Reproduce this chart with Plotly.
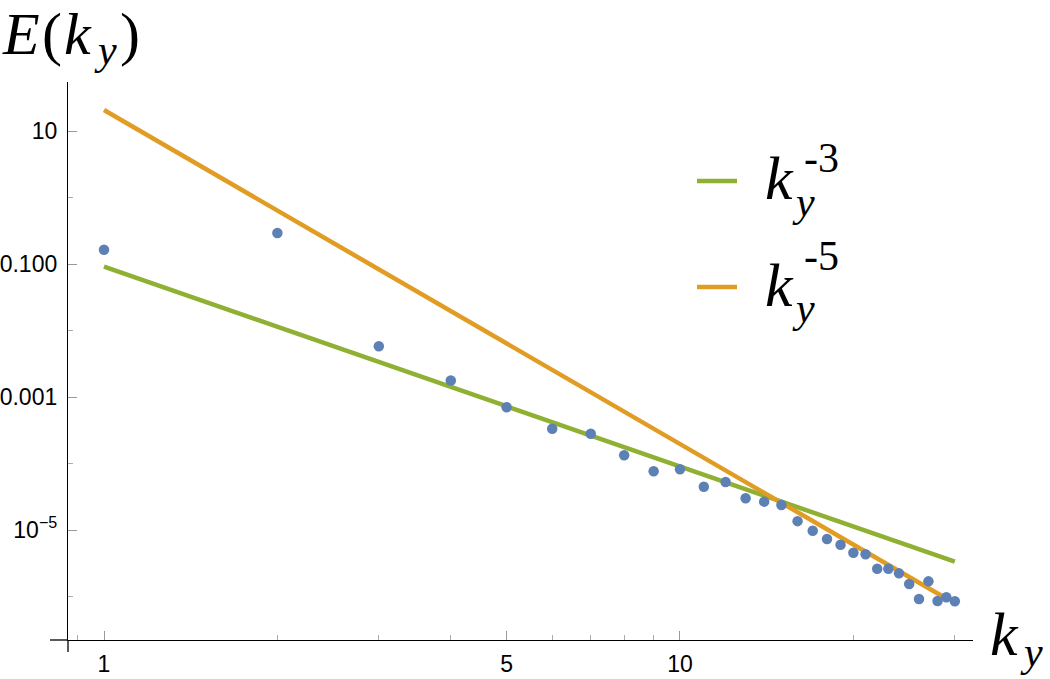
import plotly.graph_objects as go

# ---- data ----
ky = list(range(1, 31))
E_ky = [0.164, 0.292, 5.78e-3, 1.77e-3, 7.0e-4, 3.33e-4, 2.81e-4, 1.33e-4,
        7.64e-5, 8.18e-5, 4.48e-5, 5.27e-5, 3.01e-5, 2.67e-5, 2.38e-5,
        1.36e-5, 9.75e-6, 7.33e-6, 6.01e-6, 4.56e-6, 4.31e-6, 2.62e-6,
        2.62e-6, 2.23e-6, 1.54e-6, 9.16e-7, 1.69e-6, 8.55e-7, 9.73e-7, 8.47e-7]

fit3_k = [1, 30]
fit3_E = [0.091, 3.34e-6]
fit5_k = [1, 28.5]
fit5_E = [20.7, 1.02e-6]

x_tickvals = [1, 5, 10]
x_ticktext = ["1", "5", "10"]
x_minor = [0.9, 2, 3, 4, 6, 7, 8, 9, 20, 30]
y_tickvals = [10, 0.1, 0.001, 1e-5]
y_ticktext = ["10", "0.100", "0.001", "10<sup>\u22125</sup>"]
y_minor = [1, 0.01, 1e-4, 1e-6]

# ---- layout geometry ----
W, H = 1050, 679
L, R, T, B = 68, 77, 82, 39
PW, PH = W - L - R, H - T - B


def pxx(x):
    return (x - L) / PW


def pxy(y):
    return (H - B - y) / PH


BLUE = "#5E81B5"
ORANGE = "#E19C24"
GREEN = "#8FB032"
SERIF = "Liberation Serif"

fig = go.Figure()
fig.add_trace(go.Scatter(x=fit3_k, y=fit3_E, mode="lines",
                         line=dict(color=GREEN, width=4.5), name="k^-3"))
fig.add_trace(go.Scatter(x=fit5_k, y=fit5_E, mode="lines",
                         line=dict(color=ORANGE, width=4.5), name="k^-5"))
fig.add_trace(go.Scatter(x=ky, y=E_ky, mode="markers",
                         marker=dict(color=BLUE, size=10.5, line=dict(width=0)),
                         name="E"))

fig.update_layout(
    width=W, height=H,
    margin=dict(l=L, r=R, t=T, b=B, pad=0, autoexpand=False),
    paper_bgcolor="white", plot_bgcolor="white",
    showlegend=False,
    font=dict(family="Liberation Sans", size=23, color="black"),
)

fig.update_xaxes(
    type="log", range=[-0.0625, 1.5087], automargin=False,
    showgrid=False, zeroline=False,
    showline=True, linecolor="black", linewidth=1.3,
    tickmode="array", tickvals=x_tickvals, ticktext=x_ticktext,
    ticks="inside", ticklen=9, tickwidth=1, tickcolor="#999999",
    ticklabelstandoff=3,
    minor=dict(tickmode="array", tickvals=x_minor, ticks="inside",
               ticklen=5, tickwidth=1, tickcolor="#aaaaaa", showgrid=False),
)
fig.update_yaxes(
    type="log", range=[-6.654, 1.7368], automargin=False,
    showgrid=False, zeroline=False,
    showline=True, linecolor="black", linewidth=1.3,
    tickmode="array", tickvals=y_tickvals, ticktext=y_ticktext,
    ticks="inside", ticklen=9, tickwidth=1, tickcolor="#999999",
    ticklabelstandoff=5,
    minor=dict(tickmode="array", tickvals=y_minor, ticks="inside",
               ticklen=5, tickwidth=1, tickcolor="#aaaaaa", showgrid=False),
)

# axis line extensions (Mathematica-style crossing axes)
fig.add_shape(type="line", xref="paper", yref="paper",
              x0=pxx(50), x1=0, y0=0, y1=0, line=dict(color="black", width=1.3))
fig.add_shape(type="line", xref="paper", yref="paper",
              x0=0, x1=0, y0=pxy(652), y1=0, line=dict(color="black", width=1.3))

# legend swatches
fig.add_shape(type="line", xref="paper", yref="paper",
              x0=pxx(697), x1=pxx(737), y0=pxy(181), y1=pxy(181),
              line=dict(color=GREEN, width=4.5))
fig.add_shape(type="line", xref="paper", yref="paper",
              x0=pxx(697), x1=pxx(737), y0=pxy(287), y1=pxy(287),
              line=dict(color=ORANGE, width=4.5))


def ann(text, x, y, size, italic=True):
    fig.add_annotation(text=(f"<i>{text}</i>" if italic else text),
                       xref="paper", yref="paper", x=pxx(x), y=pxy(y),
                       xanchor="left", yanchor="middle", showarrow=False,
                       font=dict(family=SERIF, size=size, color="black"))


# y-axis title E(k_y)
ann("E", 0, 34, 60)
ann("(", 40, 34, 60, italic=False)
ann("k", 62, 34, 60)
ann("y", 92, 50, 42)
ann(")", 118, 34, 60, italic=False)

# legend labels
ann("k", 763, 178, 62)
ann("y", 790, 202, 42)
ann("-3", 802, 158, 42, italic=False)
ann("k", 763, 285, 62)
ann("y", 790, 308, 42)
ann("-5", 802, 256, 42, italic=False)

# x-axis title k_y
ann("k", 988, 634, 62)
ann("y", 1018, 652, 42)

fig.write_html("out.html",
               config={"displayModeBar": False},
               post_script="document.body.style.margin='0';"
                           "document.body.style.overflow='hidden';")
